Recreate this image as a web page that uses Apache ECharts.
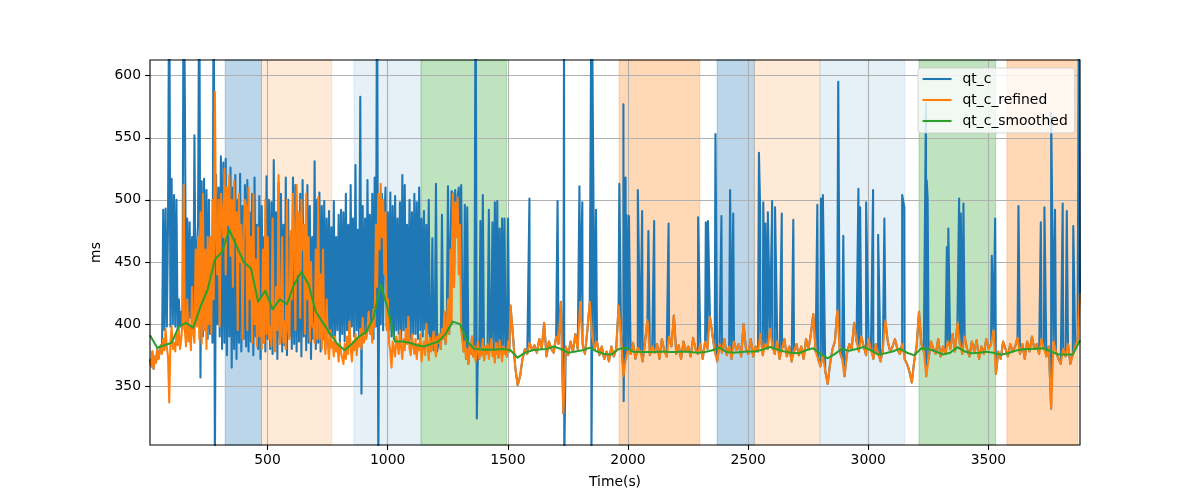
<!DOCTYPE html>
<html><head><meta charset="utf-8">
<script src="https://cdn.jsdelivr.net/npm/echarts@6/dist/echarts.min.js"></script>
<style>html,body{margin:0;padding:0;background:#fff}#c{width:1200px;height:500px}</style>
</head><body><div id="c"></div>
<script>
// ---------- data ----------
const seriesNames = ['qt_c', 'qt_c_refined', 'qt_c_smoothed'];
const xTicks = [500, 1000, 1500, 2000, 2500, 3000, 3500];
const yTicks = [350, 400, 450, 500, 550, 600];
const tStart = 11, tEnd = 3881, yMin = 302.7, yMax = 612.6;
const earlyStep = 5;      // seconds between samples, t = 11 .. 1506
const lateStart = 1511;   // late samples t = 1511 .. 3881
const lateStep = 10;
const smoothStep = 30;    // smoothed samples t = 11 .. 3881

const refinedEarly = [
372,366,378,364,374,369,380,372,377,383,376,388,379,396,381,374,337,385,398,380,
385,378,392,383,396,380,388,400,512,395,382,420,386,398,379,430,392,385,460,398,
470,388,490,384,505,395,460,380,470,400,470,392,500,420,587,470,440,500,398,505,
505,470,525,440,510,480,520,455,500,430,515,470,490,395,505,450,480,388,470,500,
495,395,510,420,470,385,505,400,452,382,478,390,420,380,460,385,500,392,470,388,
398,382,485,390,378,430,395,520,384,392,470,385,402,380,500,395,388,475,420,505,
470,395,512,440,490,405,500,460,480,392,505,420,470,386,450,398,400,385,460,388,
502,388,440,380,460,392,376,420,384,372,395,381,386,374,390,378,383,370,385,377,
378,368,384,372,390,376,402,381,370,386,379,392,375,388,382,396,380,405,385,390,
388,396,410,392,400,385,412,398,480,430,505,460,513,470,500,440,490,395,420,385,
378,365,386,380,374,390,383,376,395,381,372,388,379,396,384,406,380,375,392,383,
376,388,372,384,379,392,370,381,386,375,400,383,371,389,378,385,394,380,374,390,
385,392,380,396,388,410,384,398,420,392,460,400,505,430,498,470,502,440,480,395,
395,378,386,372,380,368,384,376,390,374,382,370,378,386,372,380,375,388,371,382,
376,384,372,380,388,374,379,369,385,377,373,387,378,370,382,376,380,374,386,378
];
const refinedLate = [
415,392,365,351,358,372,380,376,385,379,
383,377,388,380,401,374,386,380,377,390,
384,418,328,382,375,386,378,392,380,418,
384,376,395,418,390,380,386,375,382,372,
378,370,382,374,380,415,392,358,372,380,
376,385,372,381,378,370,386,403,375,382,
377,384,372,388,379,374,390,382,407,376,
383,372,386,378,382,374,389,380,376,384,
372,386,380,406,392,378,370,384,377,388,
375,382,372,386,379,384,374,400,380,376,
388,374,382,378,392,375,384,380,396,382,
376,386,372,380,388,374,382,370,378,384,
375,382,372,388,380,392,408,378,372,366,
374,362,352,368,380,386,411,378,372,358,
376,384,380,401,386,378,390,382,375,388,
379,372,384,376,370,380,403,386,378,382,
388,380,376,384,372,368,362,353,370,382,
410,384,378,358,372,386,380,376,388,374,
382,376,386,380,392,378,401,384,376,390,
380,374,386,378,387,372,382,376,388,380,
384,395,360,378,372,386,380,374,384,378,
382,389,376,384,372,386,378,390,380,384,
376,388,380,374,382,332,386,378,372,368,
380,374,384,368,376,382,388,425
];
const qtcEarly = [
372,366,378,364,374,369,380,372,377,383,378,492,395,493,398,480,700,398,517,400,
504,398,500,395,420,398,410,396,700,584,400,485,398,482,405,470,396,552,400,460,
480,700,357,515,390,517,395,508,388,500,392,470,385,700,280,520,400,510,390,535,
380,530,385,533,375,505,390,526,365,510,380,520,372,500,385,521,378,495,388,512,
382,516,378,490,386,505,375,518,390,480,380,503,372,495,385,470,378,519,388,500,
380,498,376,532,385,490,372,514,388,505,378,480,383,518,375,500,390,470,380,518,
384,512,378,490,386,505,374,516,390,480,379,512,385,495,372,470,388,531,380,500,
385,506,378,495,388,499,380,485,392,491,383,478,390,499,386,470,395,488,384,492,
392,490,386,505,395,480,388,512,398,485,390,528,395,476,388,583,344,495,392,485,
390,516,395,488,392,505,388,518,398,700,280,492,400,505,395,480,510,398,490,395,
506,390,495,388,503,395,485,392,498,386,520,395,512,390,480,398,500,388,490,392,
505,392,498,388,510,395,485,390,491,396,480,392,500,380,384,469,379,390,513,378,
385,392,380,488,388,410,384,398,511,392,460,507,505,430,508,470,502,510,480,512,
395,378,496,372,494,368,384,376,390,374,382,700,324,386,372,483,375,504,371,382,
376,384,492,380,388,482,379,498,385,499,373,477,378,485,382,485,380,374,485,378
];
// isolated qt_c beats after 1506 s: [time, value]
const qtcSpikes = [
[1590,501],[1707,499],[1734,640],[1735,290],[1798,511],[1810,498],[1847,640],[1848,295],
[1851,640],[1867,492],[1964,513],[1981,577],[1982,338],[1990,518],[1994,488],[2004,487],
[2041,508],[2059,491],[2085,475],[2109,483],[2169,481],[2292,486],[2324,482],[2333,483],
[2364,553],[2389,487],[2425,508],[2438,489],[2545,538],[2550,492],[2563,498],[2572,481],
[2582,490],[2600,499],[2612,494],[2640,489],[2688,484],[2788,496],[2803,501],[2811,504],
[2875,595],[2896,471],[2959,509],[2966,494],[2991,498],[3020,508],[3041,472],[3067,485],
[3141,504],[3150,494],[3240,578],[3243,516],[3247,501],[3327,462],[3333,477],[3378,501],
[3385,489],[3396,497],[3514,455],[3528,485],[3625,495],[3718,482],[3733,494],[3761,570],
[3777,492],[3809,497],[3826,491],[3853,479],[3876,640]
];
const smoothed = [
391,381,383,385,398,401,397,414,428,452,
458,476,463,450,445,418,427,412,420,416,
432,442,432,410,401,392,384,379,384,390,
394,405,432,412,386,386,385,383,382,384,
386,392,402,400,386,380,379.5,379.5,379.5,380,
379,373,377,379,379.5,380,382,380,377,378,
379,381,378,376,375.5,380,381,377.8,377.5,377.5,
377.5,378,377.5,377.5,378,377.5,377,377.5,379,381,
377.5,377,377.5,378,378,379.5,381.5,379.5,378,377,
376.5,379,380.5,376,372.5,376,380,378.5,380,381.5,
379,375.5,376.5,378,380.3,377,375,380.5,380,378,
375.5,377,381.4,378,376.5,377,377.8,377,375.3,376.5,
378.5,379.7,380,380.3,380.5,378,375.5,375.5,375.5,387
];
// shaded intervals (seconds) and their kind
const spanStart = [324, 475, 860, 1139, 1963, 2371, 2526, 2799, 3211, 3577];
const spanEnd   = [475, 767, 1139, 1495, 2299, 2526, 2799, 3152, 3530, 3872];
const spanKind  = [0, 1, 2, 3, 4, 0, 1, 2, 3, 4];

// ---------- styles ----------
const colors = ['#1f77b4', '#ff7f0e', '#2ca02c'];
const spanFill = ['rgba(31,119,180,0.3)', 'rgba(255,127,14,0.16)', 'rgba(31,119,180,0.11)',
                  'rgba(44,160,44,0.3)', 'rgba(255,127,14,0.3)'];
const FONT = 'DejaVu Sans';

// ---------- build series ----------
const refinedEarlyPts = refinedEarly.map((v, k) => [tStart + earlyStep * k, v]);
const refinedLatePts = refinedLate.map((v, j) => [lateStart + lateStep * j, v]);
const refinedData = refinedEarlyPts.concat(refinedLatePts);
const qtcEarlyPts = qtcEarly.map((v, k) => [tStart + earlyStep * k, v]);
const qtcLatePts = refinedLatePts.concat(qtcSpikes).sort((a, b) => a[0] - b[0]);
const qtcData = qtcEarlyPts.concat(qtcLatePts);
const smoothData = smoothed.map((v, i) => [tStart + smoothStep * i, v]);

const areaData = spanStart.map((s, i) => [
  { xAxis: s, itemStyle: { color: spanFill[spanKind[i]], borderColor: spanFill[spanKind[i]], borderWidth: 1 } },
  { xAxis: spanEnd[i] }
]);
const gridLines = xTicks.map(v => ({ xAxis: v })).concat(yTicks.map(v => ({ yAxis: v })));

function lineSeries(name, data, color, z) {
  return {
    name, type: 'line', data, z, showSymbol: false, symbol: 'none',
    clip: true, silent: true, animation: false,
    lineStyle: { color, width: 2.08, join: 'round', cap: 'butt' },
    itemStyle: { color }
  };
}

const chart = echarts.init(document.getElementById('c'), null, { renderer: 'canvas' });
chart.setOption({
  animation: false,
  backgroundColor: '#fff',
  grid: { left: 150, right: 120, top: 60, bottom: 55, show: true, borderColor: '#000', borderWidth: 1.1, backgroundColor: 'transparent', z: 10 },
  xAxis: {
    type: 'value', min: tStart, max: tEnd,
    axisLine: { show: false }, splitLine: { show: false },
    axisTick: { show: true, customValues: xTicks, length: 4.9, lineStyle: { color: '#000', width: 1.1 } },
    axisLabel: { customValues: xTicks, color: '#000', fontSize: 13.9, fontFamily: FONT, margin: 8,
      formatter: v => String(v) },
    name: 'Time(s)', nameLocation: 'middle', nameGap: 30,
    nameTextStyle: { color: '#000', fontSize: 13.9, fontFamily: FONT }
  },
  yAxis: {
    type: 'value', min: yMin, max: yMax,
    axisLine: { show: false }, splitLine: { show: false },
    axisTick: { show: true, customValues: yTicks, length: 4.9, lineStyle: { color: '#000', width: 1.1 } },
    axisLabel: { customValues: yTicks, color: '#000', fontSize: 13.9, fontFamily: FONT, margin: 9,
      formatter: v => String(v) },
    name: 'ms', nameLocation: 'middle', nameGap: 41, nameRotate: 90,
    nameTextStyle: { color: '#000', fontSize: 13.9, fontFamily: FONT }
  },
  legend: {
    data: seriesNames, orient: 'vertical', left: 918, top: 68, z: 20,
    itemWidth: 29, itemHeight: 14, itemGap: 7,
    itemStyle: { opacity: 0 },
    lineStyle: { width: 2.08 },
    backgroundColor: 'rgba(255,255,255,0.8)', borderColor: 'rgba(204,204,204,0.8)', borderWidth: 1, borderRadius: 3,
    padding: [4, 7, 5, 3.5],
    textStyle: { color: '#000', fontSize: 13.9, fontFamily: FONT, padding: [0, 0, 0, 6] },
    selectedMode: false
  },
  series: [
    { name: 'spans', type: 'line', data: [], z: 1, silent: true,
      markArea: { silent: true, z: 1, data: areaData } },
    { name: 'grid', type: 'line', data: [], z: 2, silent: true,
      markLine: { silent: true, z: 2, symbol: ['none', 'none'], label: { show: false }, animation: false,
        lineStyle: { color: '#b0b0b0', width: 1.1, type: 'solid' }, data: gridLines } },
    lineSeries(seriesNames[0], qtcData, colors[0], 3),
    lineSeries(seriesNames[1], refinedData, colors[1], 4),
    lineSeries(seriesNames[2], smoothData, colors[2], 5)
  ]
});
</script></body></html>
